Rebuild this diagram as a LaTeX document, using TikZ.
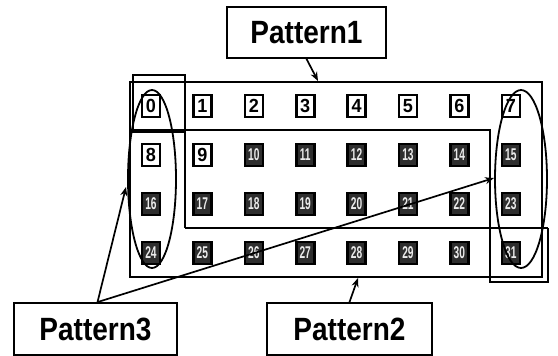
\documentclass[tikz,border=0pt]{standalone}
\usepackage{fontspec}
\setmainfont{Liberation Sans}
\usetikzlibrary{arrows.meta}
\begin{document}
\begin{tikzpicture}[x=1pt,y=-1pt,
  cellbox/.style={draw, line width=2.6pt, minimum width=18pt, minimum height=22pt, inner sep=0pt,
    font=\bfseries\fontsize{19}{19}\selectfont},
  darkcell/.style={cellbox, fill=black!82, text=white!92!black, font=\bfseries\fontsize{17}{17}\selectfont},
  labbox/.style={draw, line width=1.8pt, inner sep=0pt, font=\bfseries\fontsize{28}{28}\selectfont},
  frame/.style={line width=2.8pt},
  oval/.style={line width=1.8pt},
  pointer/.style={line width=1.7pt, -{Stealth[length=9pt,width=7pt]}}]
\useasboundingbox (0,0) rectangle (558,356);
% grid of numbered cells
\foreach \j in {0,...,3}{
  \foreach \i in {0,...,7}{
    \pgfmathtruncatemacro{\n}{8*\j+\i}
    \ifnum\n<10
      \node[cellbox] (c\n) at (151+51.4*\i,106+49*\j) {\scalebox{0.95}[1]{\n}};
    \else
      \node[darkcell] (c\n) at (151+51.4*\i,106+49*\j) {\scalebox{0.6}[1]{\n}};
    \fi
  }
}
% frames
\draw[frame] (130,82) rectangle (542,277);
\draw[frame] (130,130) -- (490,130) -- (490,282) -- (548,282) -- (548,228);
\draw[frame] (185,228) -- (548,228);
\draw[frame] (133,75) rectangle (185,132);
\draw[frame] (185,132) -- (185,228);
% ovals
\draw[oval] (152,179) ellipse [x radius=24pt, y radius=89pt];
\draw[oval] (521,179) ellipse [x radius=26pt, y radius=89pt];
% labels
\node[labbox, minimum width=159pt, minimum height=51pt] (p1) at (306.5,32.5) {\raisebox{-4pt}{\scalebox{1}[1.15]{Pattern1}}};
\node[labbox, minimum width=163pt, minimum height=52pt] (p3) at (95.5,329) {\raisebox{-2pt}{\scalebox{1}[1.15]{Pattern3}}};
\node[labbox, minimum width=165pt, minimum height=52pt] (p2) at (349.5,329) {\raisebox{-4pt}{\scalebox{1}[1.15]{Pattern2}}};
% arrow ends
\coordinate (t1) at (318,81);
\coordinate (t2) at (358,278);
\coordinate (t3a) at (126,187);
\coordinate (t3b) at (494,178);
\draw[pointer] (p1.south) -- (t1);
\draw[pointer] (p2.north) -- (t2);
\draw[pointer] ([xshift=2pt]p3.north) -- (t3a);
\draw[pointer] ([xshift=2pt]p3.north) -- (t3b);
\end{tikzpicture}
\end{document}
